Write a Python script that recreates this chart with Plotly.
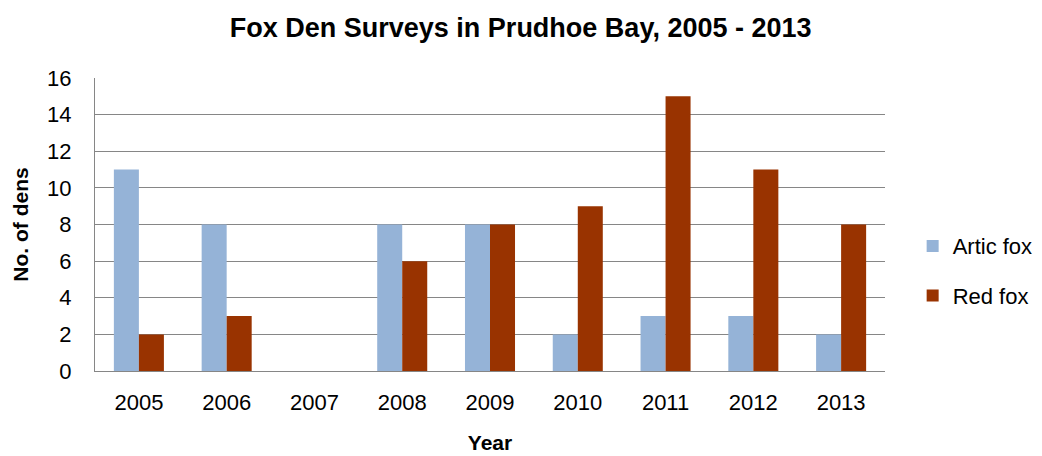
import plotly.graph_objects as go

years = ["2005", "2006", "2007", "2008", "2009", "2010", "2011", "2012", "2013"]
artic_fox = [11, 8, 0, 8, 8, 2, 3, 3, 2]
red_fox = [2, 3, 0, 6, 8, 9, 15, 11, 8]

FONT = "Liberation Sans"
fig = go.Figure()
fig.add_trace(go.Bar(x=years, y=artic_fox, name="Artic fox", marker=dict(color="#95B3D7", line=dict(width=0)), legendgroup="a"))
fig.add_trace(go.Bar(x=years, y=red_fox, name="Red fox", marker=dict(color="#993300", line=dict(width=0)), legendgroup="b"))

fig.update_layout(
    width=1042, height=456,
    margin=dict(l=87, r=163, t=70, b=93),
    paper_bgcolor="white", plot_bgcolor="white",
    barmode="group", bargap=0.43, bargroupgap=0,
    font=dict(family=FONT, size=22, color="black"),
    title=dict(text="<b>Fox Den Surveys in Prudhoe Bay, 2005 - 2013</b>", x=0.492, xref="container", xanchor="center",
               y=0.958, yref="container", yanchor="middle", font=dict(size=27, family=FONT)),
    legend=dict(x=0.035 + 1, xanchor="left", y=0.341, yanchor="middle", font=dict(size=22),
                traceorder="grouped", tracegroupgap=18, itemwidth=30),
    showlegend=True,
)
fig.update_xaxes(showline=True, linecolor="#868686", linewidth=1, ticks="", showgrid=False,
                 ticklabelstandoff=12,
                 title=dict(text="<b>Year</b>", font=dict(size=21), standoff=20), tickfont=dict(size=22))
fig.update_yaxes(range=[0, 16], dtick=2, showline=True, linecolor="#868686", linewidth=1,
                 showgrid=True, gridcolor="#868686", gridwidth=1, zeroline=False, ticks="",
                 ticklabelstandoff=18,
                 title=dict(text="<b>No. of dens</b>", font=dict(size=21), standoff=12), tickfont=dict(size=22))
fig.write_html("out.html")
